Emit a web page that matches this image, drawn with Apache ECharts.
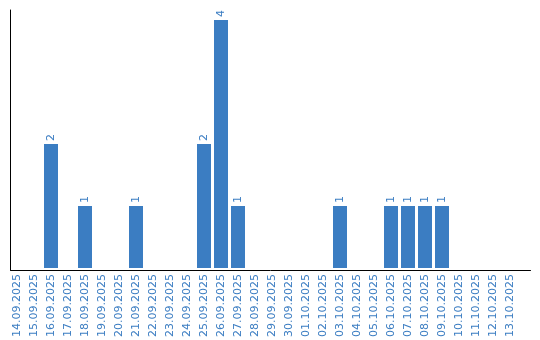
<!DOCTYPE html>
<html><head><meta charset="utf-8">
<script src="https://cdn.jsdelivr.net/npm/echarts@6/dist/echarts.min.js"></script>
<style>html,body{margin:0;padding:0;background:#fff}#c{width:540px;height:340px}</style>
</head><body><div id="c"></div>
<script>
const categories = ['14.09.2025','15.09.2025','16.09.2025','17.09.2025','18.09.2025','19.09.2025','20.09.2025','21.09.2025','22.09.2025','23.09.2025','24.09.2025','25.09.2025','26.09.2025','27.09.2025','28.09.2025','29.09.2025','30.09.2025','01.10.2025','02.10.2025','03.10.2025','04.10.2025','05.10.2025','06.10.2025','07.10.2025','08.10.2025','09.10.2025','10.10.2025','11.10.2025','12.10.2025','13.10.2025'];
const counts = [0,0,2,0,1,0,0,1,0,0,0,2,4,1,0,0,0,0,0,1,0,0,1,1,1,1,0,0,0,0];
const yMax = 4.16;

const blue = '#3b7dc2';
const chart = echarts.init(document.getElementById('c'), null, {renderer:'canvas'});
chart.setOption({
  animation: false,
  grid: [
    {left: 10.5, right: 9.5, top: 10, bottom: 70},
    {left: 8.5, width: 510, top: 10, bottom: 70}
  ],
  xAxis: [
    {type:'category', gridIndex:0, data:[''], axisLine:{lineStyle:{color:'#000',width:1}}, axisTick:{show:false}, axisLabel:{show:false}},
    {type:'category', gridIndex:1, data:categories, axisLine:{show:false}, axisTick:{show:false},
     axisLabel:{interval:0, rotate:90, color:blue, fontFamily:'DejaVu Sans', fontSize:11, margin:6}}
  ],
  yAxis: [
    {type:'value', gridIndex:0, min:0, max:yMax, axisLine:{show:true, lineStyle:{color:'#000',width:1}}, axisTick:{show:false}, axisLabel:{show:false}, splitLine:{show:false}},
    {type:'value', gridIndex:1, min:0, max:yMax, axisLine:{show:false}, axisTick:{show:false}, axisLabel:{show:false}, splitLine:{show:false}}
  ],
  series: [{
    type:'bar', xAxisIndex:1, yAxisIndex:1,
    data: counts.map(v => v === 0 ? null : v),
    barWidth: 14,
    itemStyle:{color:blue},
    label:{show:true, position:'top', rotate:90, align:'left', verticalAlign:'middle', distance:3,
      color:blue, fontFamily:'DejaVu Sans', fontSize:11}
  }]
});
</script></body></html>
